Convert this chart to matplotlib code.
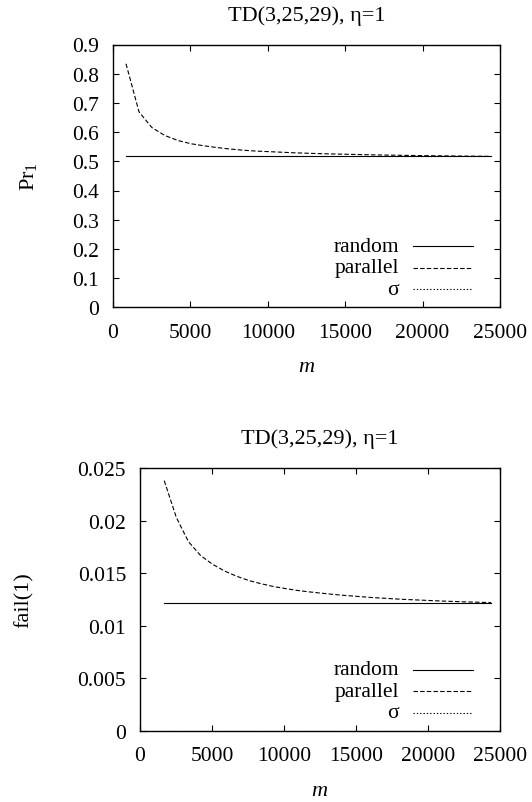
import numpy as np
import matplotlib
matplotlib.use("Agg")
import matplotlib.pyplot as plt
from matplotlib.ticker import FuncFormatter

plt.rcParams['font.family'] = ['Liberation Serif', 'DejaVu Serif']
plt.rcParams['mathtext.fontset'] = 'custom'
plt.rcParams['mathtext.rm'] = 'Liberation Serif'
plt.rcParams['mathtext.it'] = 'Liberation Serif:italic'
plt.rcParams['font.size'] = 15.5

# m runs over multiples of 29^2 up to 29^3
m_top = [841 * k for k in range(1, 30)]
m_bottom = [841 * k for k in range(2, 30)]

# upper panel: Pr_1
pr_random = [0.517] * len(m_top)
pr_parallel = [0.834, 0.669, 0.615, 0.588, 0.571, 0.560, 0.553, 0.547, 0.542, 0.538,
               0.535, 0.533, 0.531, 0.529, 0.5275, 0.526, 0.525, 0.524, 0.523, 0.522,
               0.5213, 0.5206, 0.520, 0.5193, 0.5188, 0.5183, 0.5178, 0.5174, 0.517]
pr_sigma = [0.0] * len(m_top)

# lower panel: fail(1)
fail_random = [0.0122] * len(m_bottom)
fail_parallel = [0.0238, 0.0203, 0.0180, 0.01668, 0.01584, 0.0152, 0.0147, 0.0143,
                 0.0140, 0.01374, 0.01354, 0.01336, 0.01322, 0.0131, 0.01298, 0.01288,
                 0.01279, 0.0127, 0.01263, 0.01256, 0.0125, 0.01245, 0.0124, 0.01235,
                 0.01231, 0.01227, 0.01224, 0.0122]
fail_sigma = [0.0] * len(m_bottom)

title = 'TD(3,25,29), η=1'
names = ['random', 'parallel', 'σ']
styles = ['-', (0, (4, 2)), (0, (1.2, 1.8))]


def fmt(v, pos):
    return '%g' % v


def draw_panel(ax, m, series, yticks, ylabel, ylabel_x):
    for ys, ls in zip(series, styles):
        ax.plot(m, ys, color='black', lw=0.8, linestyle=ls, zorder=1)
    ax.set_xlim(0, 25000)
    ax.set_ylim(yticks[0], yticks[-1])
    ax.set_xticks(range(0, 25001, 5000))
    ax.set_yticks(yticks)
    ax.yaxis.set_major_formatter(FuncFormatter(fmt))
    ax.tick_params(direction='in', length=4.3, width=0.8, top=True, right=True)
    ax.tick_params(axis='x', pad=11)
    ax.tick_params(axis='y', pad=10)
    for s in ax.spines.values():
        s.set_linewidth(1.0)
        s.set_zorder(3)
    ax.set_title(title, fontsize=16, pad=18)
    ax.set_xlabel('$m$', fontsize=16)
    ax.xaxis.set_label_coords(0.5, -0.19)
    ax.set_ylabel(ylabel, fontsize=16)
    ax.yaxis.set_label_coords(ylabel_x, 0.5)


def draw_key(fig, ax):
    # key sits at the same figure x in both panels, rows in axes fraction
    tr = matplotlib.transforms.blended_transform_factory(fig.transFigure, ax.transAxes)
    rows = [0.233, 0.151, 0.069]
    for name, ls, y in zip(names, styles, rows):
        ax.text(399 / 532, y, name, transform=tr, ha='right', va='center', fontsize=15.5)
        ax.plot([413 / 532, 472.5 / 532], [y, y], transform=tr, color='black',
                lw=0.8, linestyle=ls, clip_on=False)


fig = plt.figure(figsize=(5.32, 8.03), dpi=100)
ax1 = fig.add_axes([113 / 532, 1 - 308.3 / 803, 387 / 532, 262.8 / 803])
ax2 = fig.add_axes([140 / 532, 1 - 732 / 803, 360 / 532, 263 / 803])

draw_panel(ax1, m_top, [pr_random, pr_parallel, pr_sigma],
           [round(0.1 * i, 1) for i in range(10)], r'$\mathrm{Pr}_1$', -0.19)
draw_panel(ax2, m_bottom, [fail_random, fail_parallel, fail_sigma],
           [0, 0.005, 0.01, 0.015, 0.02, 0.025], 'fail(1)', -0.295)
draw_key(fig, ax1)
draw_key(fig, ax2)

fig.savefig('out.png', dpi=100)
